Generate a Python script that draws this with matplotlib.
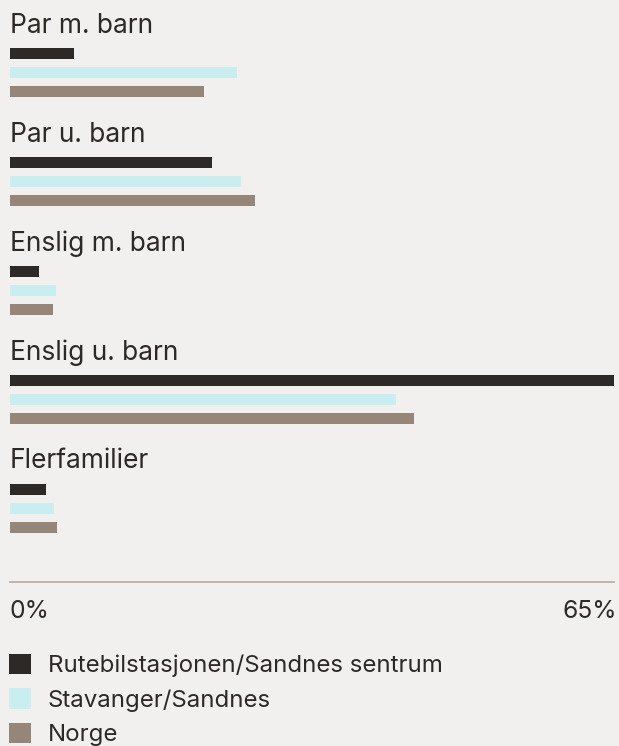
import matplotlib
matplotlib.use('Agg')
import matplotlib.pyplot as plt
import matplotlib.transforms as mtransforms
from matplotlib.patches import Patch

plt.rcParams['font.family'] = ['Inter', 'DejaVu Sans']

# andel husholdninger (%), etter type
categories = ['Par m. barn', 'Par u. barn', 'Enslig m. barn', 'Enslig u. barn', 'Flerfamilier']
series = ['Rutebilstasjonen/Sandnes sentrum', 'Stavanger/Sandnes', 'Norge']
sentrum = [6.9, 21.8, 3.2, 65.0, 3.9]
stavanger = [24.5, 24.9, 5.0, 41.6, 4.8]
norge = [20.9, 26.4, 4.7, 43.5, 5.1]
x_min, x_max = 0, 65

colors = ['#2d2926', '#caedf0', '#968579']
bg = '#f2f0ee'
txt = '#2d2926'

W, H = 619, 746
fig = plt.figure(figsize=(W / 100, H / 100), dpi=100, facecolor=bg)

# axes in pixel units vertically: top of figure down to the baseline rule
x0, x1, y_axis = 9.5, 614, 582
ax = fig.add_axes([x0 / W, 1 - y_axis / H, (x1 - x0) / W, y_axis / H])
ax.set_facecolor(bg)
ax.set_xlim(x_min, x_max)
ax.set_ylim(y_axis, 0)

group_step = 108.85
bar_step = 18.9
bar_h = 11
first_bar = 53.8
label_off = 33

for i, cat in enumerate(categories):
    g = i * group_step
    ax.text(0, g + label_off, cat, fontsize=19, color=txt, va='baseline', ha='left')
    for k, vals in enumerate([sentrum, stavanger, norge]):
        ax.barh(g + first_bar + k * bar_step, vals[i], height=bar_h,
                color=colors[k], left=0)

for s in ['top', 'left', 'right']:
    ax.spines[s].set_visible(False)
ax.spines['bottom'].set_color('#b6aa9f')
ax.spines['bottom'].set_linewidth(1.2)
ax.set_yticks([])
ax.set_xticks([])

# scale end labels under the rule
ax.text(x_min, y_axis + 30, f'{x_min}%', fontsize=17.8, color=txt,
        ha='left', va='center')
nudge = mtransforms.ScaledTranslation(3 / 100, 0, fig.dpi_scale_trans)
ax.text(x_max, y_axis + 30, f'{x_max}%', fontsize=17.8, color=txt,
        ha='right', va='center', transform=ax.transData + nudge)

handles = [Patch(facecolor=c, edgecolor='none') for c in colors]
fig.legend(handles, series, loc='upper left', bbox_to_anchor=(9 / W, 1 - 654 / H),
           frameon=False, fontsize=17.3, borderpad=0, borderaxespad=0,
           handlelength=0.92, handleheight=0.92, handletextpad=0.7,
           labelspacing=0.46, labelcolor=txt)

fig.savefig('out.png', dpi=100, facecolor=bg)
